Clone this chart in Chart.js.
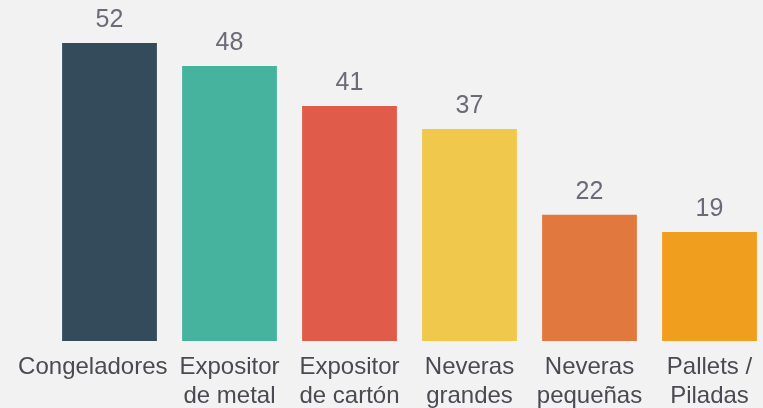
<!DOCTYPE html>
<html>
<head>
<meta charset="utf-8">
<script src="https://cdn.jsdelivr.net/npm/chart.js@4"></script>
<style>
  html, body { margin: 0; padding: 0; background: #f2f2f2; overflow: hidden; }
  #wrap { position: relative; width: 770px; height: 408px; }
</style>
</head>
<body>
<div id="wrap"><canvas id="c"></canvas></div>
<script>
const categories = [
  "Congeladores\u00a0\u00a0\u00a0\u00a0\u00a0",
  ["Expositor", "de metal"],
  ["Expositor", "de cartón"],
  ["Neveras", "grandes"],
  ["Neveras", "pequeñas"],
  ["Pallets /", "Piladas"]
];
const values = [52, 48, 41, 37, 22, 19];
const barColors = ["#344b5c", "#45b39d", "#e05b4a", "#efc84c", "#e1793f", "#f09e1e"];

const valueLabels = {
  id: 'valueLabels',
  afterDatasetsDraw(chart) {
    const ctx = chart.ctx;
    const meta = chart.getDatasetMeta(0);
    ctx.save();
    ctx.font = '25px "Liberation Sans", Arial, sans-serif';
    ctx.fillStyle = '#6b6a78';
    ctx.textAlign = 'center';
    ctx.textBaseline = 'alphabetic';
    meta.data.forEach((bar, i) => {
      ctx.fillText(String(values[i]), bar.x, bar.y - 16);
    });
    ctx.restore();
  }
};

new Chart(document.getElementById('c'), {
  type: 'bar',
  data: {
    labels: categories,
    datasets: [{
      data: values,
      backgroundColor: barColors,
      borderWidth: 0,
      barPercentage: 0.79,
      categoryPercentage: 1.0
    }]
  },
  options: {
    responsive: true,
    maintainAspectRatio: false,
    animation: false,
    layout: { padding: { left: 49.5, right: 0.5, top: 43, bottom: -15.5 } },
    plugins: { legend: { display: false }, tooltip: { enabled: false } },
    scales: {
      x: {
        grid: { display: false, drawTicks: false },
        border: { display: false },
        ticks: {
          color: '#4a4a52',
          font: { family: '"Liberation Sans", Arial, sans-serif', size: 24, lineHeight: 1.2 },
          padding: 12.5,
          maxRotation: 0,
          autoSkip: false
        }
      },
      y: {
        display: false,
        min: 0,
        max: 52
      }
    }
  },
  plugins: [valueLabels]
});
</script>
</body>
</html>
